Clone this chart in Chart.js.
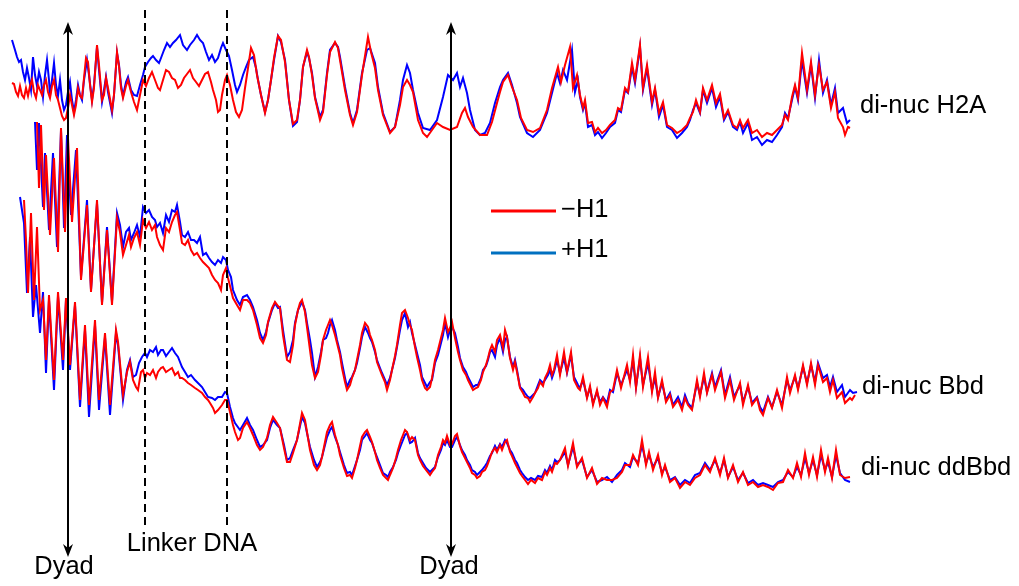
<!DOCTYPE html>
<html lang="en">
<head>
    <meta charset="UTF-8">
    <title>di-nuc footprints</title>
    <script src="https://cdn.jsdelivr.net/npm/chart.js"></script>
    <style>
        body { margin: 0; background: #fff; }
    </style>
</head>
<body>
    <canvas id="grafico" width="1019" height="586"></canvas>

    <script>
        // [position, signal] pairs (signal axis runs downwards)
        const h2aMinus = [[12,83],[14,84],[16,92],[18,96],[20,86],[22,95],[24,98],[26,88],[28,96],[30,86],[32,80],[34,92],[36,98],[38,85],[40,90],[42,95],[44,85],[46,80],[48,92],[50,98],[52,86],[54,80],[56,95],[58,100],[60,108],[62,116],[64,120],[66,118],[68,108],[70,95],[72,105],[74,115],[76,105],[78,88],[80,96],[82,98],[84,78],[86,58],[88,62],[90,85],[92,102],[94,88],[97,45],[99,65],[102,100],[104,95],[106,78],[108,88],[112,110],[114,95],[117,52],[119,66],[121,88],[123,98],[126,86],[128,80],[131,92],[134,102],[137,110],[140,95],[143,80],[146,86],[149,78],[152,72],[155,80],[158,88],[160,90],[163,80],[166,70],[169,72],[172,78],[175,80],[178,88],[181,85],[184,78],[187,74],[190,70],[193,78],[196,82],[199,86],[202,80],[205,74],[208,72],[211,82],[213,90],[216,100],[218,112],[220,110],[222,95],[225,80],[227,75],[230,85],[233,100],[236,112],[239,117],[242,110],[245,88],[248,68],[251,48],[254,55],[257,75],[261,95],[265,113],[268,100],[271,80],[274,58],[278,36],[281,40],[285,62],[289,100],[293,124],[297,120],[300,100],[303,67],[307,50],[309,57],[312,75],[315,98],[320,120],[323,112],[327,75],[330,52],[335,42],[338,48],[340,60],[345,90],[350,115],[353,125],[357,112],[362,75],[368,37],[371,52],[375,68],[378,90],[383,115],[390,133],[395,127],[400,105],[403,87],[407,80],[410,85],[413,92],[418,120],[423,133],[427,137],[432,130],[437,123],[443,127],[450,130],[457,127],[462,113],[465,108],[468,117],[473,127],[480,135],[487,135],[492,122],[497,103],[500,92],[503,82],[508,75],[512,87],[517,100],[521,118],[527,130],[533,132],[540,128],[547,110],[552,88],[558,67],[561,82],[565,65],[570,47],[573,88],[577,75],[580,95],[583,108],[585,100],[588,123],[592,122],[595,132],[598,128],[602,133],[606,130],[610,125],[615,120],[618,108],[621,110],[625,88],[628,92],[632,63],[635,80],[640,45],[643,88],[647,65],[652,102],[655,88],[659,113],[663,102],[667,125],[672,128],[677,133],[682,130],[687,125],[690,118],[693,112],[696,100],[700,112],[703,88],[707,100],[712,85],[716,103],[720,94],[724,118],[728,110],[733,125],[737,128],[740,120],[743,128],[748,120],[752,133],[757,130],[762,137],[767,133],[772,135],[777,130],[782,125],[785,115],[788,120],[792,97],[795,85],[798,98],[802,53],[807,90],[811,62],[815,95],[819,65],[823,90],[827,82],[831,108],[835,92],[838,118],[843,127],[845,135],[848,127],[850,128]];

        const h2aPlus = [[12,40],[15,50],[17,57],[19,62],[21,60],[23,72],[25,80],[27,68],[29,78],[31,90],[33,57],[35,75],[37,86],[39,72],[41,80],[43,97],[45,75],[47,60],[49,80],[50,96],[52,80],[54,63],[56,85],[58,96],[60,80],[62,100],[64,110],[66,105],[68,92],[70,82],[72,100],[74,112],[76,100],[78,85],[80,95],[82,100],[84,80],[87,60],[89,75],[92,100],[94,85],[97,47],[99,70],[102,102],[104,90],[106,77],[108,92],[112,113],[114,95],[117,53],[119,65],[121,85],[123,96],[126,82],[128,77],[131,90],[134,95],[137,96],[140,85],[143,75],[145,67],[148,62],[151,58],[153,56],[156,60],[159,63],[161,58],[164,50],[167,43],[170,47],[173,43],[176,40],[180,35],[183,45],[187,50],[190,45],[194,40],[197,35],[200,40],[203,43],[206,52],[209,60],[212,55],[215,62],[218,58],[221,48],[223,43],[226,50],[229,56],[232,70],[235,85],[237,92],[240,85],[243,75],[246,67],[249,60],[253,57],[256,68],[258,80],[261,95],[265,112],[268,100],[271,80],[274,60],[278,36],[281,42],[285,60],[289,100],[293,126],[297,122],[300,100],[303,67],[307,52],[309,58],[312,73],[315,97],[320,117],[323,110],[327,73],[330,50],[335,43],[338,47],[340,57],[345,87],[350,113],[353,123],[357,110],[362,73],[367,50],[370,48],[375,63],[378,87],[383,113],[390,132],[395,127],[400,100],[403,80],[407,65],[410,73],[413,90],[418,113],[423,128],[430,130],[437,120],[443,97],[448,75],[453,80],[457,73],[460,87],[463,78],[467,93],[470,110],[475,130],[480,135],[485,133],[490,123],[495,103],[500,87],[503,80],[508,73],[512,85],[517,103],[520,117],[527,133],[533,137],[540,130],[547,113],[552,93],[557,73],[560,83],[563,70],[567,80],[572,50],[575,92],[578,80],[580,97],[583,110],[585,103],[588,127],[592,125],[595,135],[598,132],[602,138],[606,133],[610,127],[615,123],[618,110],[621,112],[625,90],[628,93],[632,67],[635,83],[640,47],[643,90],[647,68],[652,105],[655,90],[659,117],[663,105],[667,127],[672,130],[677,138],[682,133],[687,127],[690,120],[693,110],[696,103],[700,113],[703,90],[707,103],[712,88],[716,107],[720,97],[724,120],[728,112],[733,127],[737,130],[740,122],[743,133],[748,123],[752,140],[757,137],[762,145],[767,140],[772,142],[777,135],[782,127],[785,113],[788,118],[792,100],[795,87],[798,100],[802,60],[807,93],[811,65],[815,98],[819,60],[823,93],[827,80],[831,105],[835,88],[838,113],[843,108],[847,123],[850,120]];

        const bbdMinus = [[37,122],[39,188],[41,125],[44,210],[46,155],[50,235],[54,158],[58,252],[61,128],[65,232],[68,138],[72,222],[77,148],[81,280],[87,205],[91,292],[97,200],[102,305],[107,230],[112,305],[117,218],[120,232],[123,255],[126,245],[129,235],[131,247],[134,238],[137,232],[140,245],[143,220],[146,228],[149,222],[152,230],[155,225],[157,237],[160,245],[163,250],[166,228],[169,232],[172,222],[175,215],[177,212],[180,230],[182,243],[185,245],[188,240],[191,250],[194,255],[197,253],[200,258],[203,262],[206,265],[209,268],[212,275],[215,280],[218,283],[221,290],[223,275],[226,268],[228,278],[231,290],[233,298],[237,305],[240,310],[243,300],[247,300],[250,303],[253,310],[257,325],[260,338],[263,343],[266,335],[268,322],[272,308],[275,302],[278,306],[280,308],[283,335],[287,360],[290,362],[293,345],[295,325],[298,310],[300,303],[302,300],[305,312],[307,327],[310,350],[312,365],[315,378],[318,372],[321,355],[323,340],[326,330],[328,325],[330,320],[332,325],[335,335],[337,343],[340,355],[342,368],[345,382],[347,390],[350,385],[352,378],[355,370],[357,360],[360,345],[362,333],[365,323],[368,327],[370,335],[372,340],[375,350],[377,362],[380,370],[382,375],[385,382],[387,390],[390,380],[392,370],[395,356],[397,345],[400,325],[402,313],[405,310],[408,318],[410,325],[412,330],[415,347],[417,357],[420,370],[422,380],[425,388],[427,390],[430,387],[432,378],[435,360],[438,350],[440,342],[443,330],[445,318],[448,332],[450,328],[452,322],[455,338],[458,352],[460,360],[463,370],[466,375],[468,380],[471,386],[473,390],[476,388],[478,387],[481,380],[483,372],[486,365],[488,358],[490,350],[492,345],[495,352],[497,340],[500,335],[503,348],[505,330],[507,337],[510,358],[513,370],[515,362],[517,372],[520,388],[523,393],[525,397],[528,398],[530,402],[533,397],[535,393],[538,388],[540,382],[543,386],[545,378],[548,372],[550,365],[552,375],[554,370],[557,355],[560,375],[564,352],[567,372],[571,352],[574,380],[578,388],[580,390],[583,377],[587,398],[590,386],[593,405],[597,390],[600,405],[603,398],[607,407],[610,392],[613,390],[617,370],[621,388],[627,365],[630,382],[633,355],[636,388],[640,355],[643,387],[648,357],[652,392],[655,372],[658,398],[662,380],[666,402],[670,395],[673,407],[678,400],[682,410],[685,398],[688,405],[692,410],[697,380],[700,397],[704,373],[707,393],[712,375],[715,390],[721,372],[725,398],[730,380],[734,400],[740,383],[743,405],[748,385],[752,405],[757,398],[760,410],[763,415],[768,398],[772,408],[777,390],[782,408],[787,377],[790,393],[795,375],[798,390],[803,365],[807,385],[811,363],[815,385],[818,365],[823,382],[827,378],[830,392],[833,380],[837,398],[842,392],[845,403],[850,398],[852,400],[855,395]];

        const bbdPlus = [[35,122],[37,170],[39,123],[43,207],[45,153],[49,230],[53,153],[57,247],[61,130],[64,228],[67,135],[71,215],[76,150],[81,277],[87,200],[91,290],[97,203],[102,303],[107,227],[112,302],[117,213],[120,225],[123,247],[126,232],[129,228],[131,240],[134,233],[137,225],[140,237],[143,207],[146,213],[149,210],[152,217],[155,220],[157,227],[160,223],[163,233],[166,215],[169,222],[172,210],[175,212],[177,205],[180,222],[182,235],[185,237],[188,232],[191,240],[194,240],[197,243],[200,237],[203,255],[206,253],[209,258],[212,262],[215,265],[218,260],[221,263],[223,257],[226,260],[228,270],[231,277],[233,290],[237,300],[240,305],[243,297],[247,295],[250,300],[253,307],[257,320],[260,333],[263,340],[266,332],[268,323],[272,310],[275,303],[278,308],[280,307],[283,330],[287,357],[290,352],[293,340],[295,323],[298,310],[302,302],[305,310],[307,323],[310,340],[312,353],[315,377],[318,367],[321,352],[323,340],[326,338],[328,333],[330,325],[332,320],[335,330],[337,340],[340,352],[342,363],[345,378],[347,387],[350,380],[352,377],[355,370],[357,363],[360,348],[362,337],[365,327],[368,333],[370,338],[372,342],[375,352],[377,360],[380,368],[382,373],[385,380],[387,385],[390,378],[392,370],[395,358],[397,347],[400,330],[402,320],[405,313],[408,327],[410,322],[412,333],[415,345],[417,353],[420,365],[422,377],[425,383],[427,387],[430,382],[432,380],[435,363],[438,355],[440,347],[443,335],[445,323],[448,337],[450,330],[452,327],[455,333],[458,347],[460,358],[463,367],[466,372],[468,377],[471,383],[473,387],[476,385],[478,385],[481,378],[483,370],[486,366],[488,360],[490,352],[492,350],[495,357],[497,345],[500,338],[503,352],[505,340],[507,337],[510,357],[513,367],[515,360],[517,370],[520,387],[523,390],[525,393],[528,397],[530,398],[533,395],[535,393],[538,385],[540,380],[543,383],[545,380],[548,375],[550,370],[552,378],[554,372],[557,360],[560,373],[564,358],[567,373],[571,355],[574,377],[578,385],[580,388],[583,380],[587,397],[590,388],[593,403],[597,392],[600,402],[603,397],[607,403],[610,390],[613,392],[617,373],[621,385],[627,370],[630,380],[633,360],[636,387],[640,358],[643,385],[648,363],[652,390],[655,378],[658,397],[662,383],[666,400],[670,393],[673,405],[678,397],[682,407],[685,395],[688,403],[692,408],[697,383],[700,395],[704,377],[707,392],[712,373],[715,387],[721,370],[725,395],[730,377],[734,397],[740,385],[743,402],[748,387],[752,403],[757,397],[760,407],[763,412],[768,397],[772,407],[777,392],[782,405],[787,380],[790,390],[795,377],[798,388],[803,367],[807,383],[811,365],[815,382],[818,363],[823,378],[827,375],[830,387],[833,377],[837,392],[842,385],[845,397],[850,390],[853,393],[857,392]];

        const ddbbdMinus = [[24,200],[26,240],[28,293],[31,213],[34,300],[37,227],[40,310],[43,300],[46,360],[49,295],[54,380],[58,292],[63,360],[66,298],[70,365],[75,302],[80,400],[85,325],[89,405],[95,320],[99,400],[105,333],[110,405],[116,330],[118,342],[123,395],[127,372],[130,362],[133,380],[136,387],[138,390],[141,372],[143,370],[145,378],[147,373],[150,375],[153,370],[156,378],[158,372],[161,368],[163,367],[166,372],[169,370],[172,368],[175,375],[178,372],[180,378],[182,378],[185,380],[188,383],[191,385],[195,388],[198,390],[202,393],[205,397],[208,400],[210,403],[213,408],[215,413],[218,410],[222,405],[225,400],[227,400],[230,412],[233,425],[235,432],[238,440],[240,438],[243,428],[247,422],[250,428],[253,435],[257,445],[260,450],[263,447],[267,438],[270,425],[273,417],[277,423],[280,428],[284,448],[287,462],[290,462],[293,453],[297,440],[302,413],[305,420],[307,432],[310,450],[314,465],[317,470],[320,465],[322,457],[325,442],[327,432],[330,425],[332,422],[335,435],[338,445],[340,455],[344,468],[347,476],[350,475],[352,478],[355,468],[357,460],[360,446],[362,437],[365,432],[367,430],[370,437],[372,442],[375,452],[377,460],[380,468],[383,475],[386,478],[388,480],[390,475],[393,468],[396,458],[398,450],[401,440],[403,435],[405,430],[407,432],[410,440],[412,437],[415,440],[418,455],[420,460],[423,466],[426,470],[430,475],[432,472],[435,468],[438,455],[441,447],[443,440],[445,443],[447,436],[450,445],[452,444],[455,436],[457,434],[460,446],[462,452],[465,458],[467,462],[470,468],[472,473],[475,475],[477,478],[480,476],[482,472],[485,470],[487,466],[490,458],[492,452],[495,448],[497,452],[500,445],[502,450],[505,442],[507,440],[510,452],[512,456],[515,463],[517,467],[520,473],[522,476],[525,480],[528,484],[531,480],[535,483],[538,478],[542,480],[545,472],[547,475],[550,468],[552,472],[555,463],[557,464],[560,460],[565,448],[568,466],[573,443],[577,467],[582,458],[587,478],[592,468],[597,484],[602,478],[607,480],[612,480],[617,478],[622,472],[625,465],[630,465],[633,455],[638,465],[642,440],[646,465],[649,452],[653,470],[658,455],[662,475],[665,465],[670,482],[675,478],[680,488],[685,482],[690,485],[695,478],[700,475],[705,465],[710,472],[715,458],[720,475],[724,458],[728,478],[733,465],[738,482],[743,472],[748,485],[753,482],[758,487],[763,485],[768,487],[773,490],[778,483],[783,482],[788,470],[793,478],[797,463],[801,477],[805,453],[809,475],[813,457],[817,477],[821,450],[825,472],[828,458],[832,478],[836,450],[840,475],[845,478],[850,477]];

        const ddbbdPlus = [[20,197],[22,210],[24,223],[27,293],[30,237],[33,317],[36,285],[40,333],[43,292],[46,373],[49,300],[54,390],[58,296],[63,370],[66,300],[70,370],[75,305],[80,407],[85,330],[89,417],[95,325],[99,410],[105,337],[110,415],[116,333],[118,345],[123,400],[127,370],[130,360],[133,377],[136,375],[139,363],[142,357],[145,353],[147,357],[150,350],[153,352],[156,347],[158,355],[161,350],[163,350],[166,356],[169,352],[172,348],[175,353],[178,357],[180,362],[182,367],[185,372],[188,377],[191,375],[195,380],[198,383],[202,387],[205,392],[208,397],[212,398],[215,400],[218,397],[222,397],[225,392],[227,393],[230,407],[233,418],[235,423],[240,430],[243,425],[247,418],[250,425],[253,430],[257,440],[260,447],[263,445],[267,440],[270,428],[273,420],[277,425],[280,428],[284,445],[287,460],[290,458],[293,450],[297,440],[302,417],[305,423],[307,433],[310,447],[314,460],[317,467],[320,462],[322,457],[325,445],[327,437],[330,430],[332,427],[335,437],[338,445],[340,452],[344,465],[347,473],[350,472],[352,475],[355,466],[357,460],[360,450],[362,440],[365,436],[367,433],[370,440],[372,443],[375,452],[377,457],[380,465],[383,473],[386,475],[388,477],[390,472],[393,467],[396,460],[398,453],[401,445],[403,440],[405,435],[407,433],[410,443],[412,442],[415,438],[418,453],[420,458],[423,463],[426,468],[430,472],[432,470],[435,467],[438,457],[441,450],[443,443],[445,445],[447,440],[450,447],[452,447],[455,440],[457,437],[460,445],[462,450],[465,455],[467,460],[470,465],[472,470],[475,472],[477,475],[480,472],[482,470],[485,466],[487,463],[490,456],[492,453],[495,446],[497,450],[500,444],[502,447],[505,440],[507,443],[510,450],[512,453],[515,460],[517,463],[520,470],[522,473],[525,477],[528,480],[531,478],[535,480],[538,476],[542,477],[545,470],[547,473],[550,466],[552,470],[555,460],[557,462],[560,460],[565,452],[568,465],[573,447],[577,465],[582,460],[587,477],[592,470],[597,482],[602,480],[607,477],[612,482],[617,475],[622,470],[625,463],[630,467],[633,457],[638,463],[642,445],[646,463],[649,455],[653,467],[658,458],[662,473],[665,467],[670,480],[675,477],[680,485],[685,480],[690,483],[695,475],[700,473],[705,463],[710,470],[715,460],[720,473],[724,460],[728,477],[733,467],[738,480],[743,473],[748,483],[753,480],[758,485],[763,483],[768,485],[773,487],[778,482],[783,480],[788,472],[793,477],[797,467],[801,475],[805,458],[809,473],[813,460],[817,475],[821,455],[825,470],[828,462],[832,477],[836,455],[840,473],[845,480],[850,482]];

        // dyads and linker boundaries, in position units
        const dyadPos = [68, 451];
        const linkerPos = [145, 227];
        const seriesNames = ["di-nuc H2A", "di-nuc Bbd", "di-nuc ddBbd"];
        const legendNames = ["\u2212H1", "+H1"];

        const pts = arr => arr.map(p => ({ x: p[0], y: p[1] }));
        const linha = (dados, cor) => ({
            data: pts(dados),
            borderColor: cor,
            borderWidth: 2,
            pointRadius: 0,
            tension: 0,
            fill: false
        });

        const fonte = '25.5px "Liberation Sans", Arial, sans-serif';

        function seta(ctx, x, y, dir) {
            ctx.beginPath();
            ctx.moveTo(x, y);
            ctx.lineTo(x - 5, y + dir * 13);
            ctx.lineTo(x, y + dir * 9);
            ctx.lineTo(x + 5, y + dir * 13);
            ctx.closePath();
            ctx.fill();
        }

        const anotacoes = {
            id: 'anotacoes',
            afterDatasetsDraw(chart) {
                const ctx = chart.ctx;
                const sx = chart.scales.x, sy = chart.scales.y;
                ctx.save();
                ctx.strokeStyle = '#000';
                ctx.fillStyle = '#000';

                // linker DNA boundaries
                ctx.lineWidth = 2;
                ctx.setLineDash([8, 5]);
                linkerPos.forEach(p => {
                    const x = Math.round(sx.getPixelForValue(p));
                    ctx.beginPath();
                    ctx.moveTo(x, sy.getPixelForValue(10));
                    ctx.lineTo(x, sy.getPixelForValue(525));
                    ctx.stroke();
                });
                ctx.setLineDash([]);

                // dyad double arrows
                dyadPos.forEach(p => {
                    const x = Math.round(sx.getPixelForValue(p));
                    const top = sy.getPixelForValue(22), bot = sy.getPixelForValue(557);
                    ctx.beginPath();
                    ctx.moveTo(x, top + 8);
                    ctx.lineTo(x, bot - 8);
                    ctx.stroke();
                    seta(ctx, x, top, 1);
                    seta(ctx, x, bot, -1);
                });

                ctx.font = fonte;
                ctx.textBaseline = 'middle';
                ctx.textAlign = 'center';
                ctx.fillText('Dyad', sx.getPixelForValue(dyadPos[0]) - 4, 567);
                ctx.fillText('Dyad', sx.getPixelForValue(dyadPos[1]) - 2, 567);
                ctx.fillText('Linker DNA', 192, 544);

                ctx.textAlign = 'left';
                ctx.fillText(seriesNames[0], 860, 106);
                ctx.fillText(seriesNames[1], 862, 387);
                ctx.fillText(seriesNames[2], 861, 468);

                // legend
                ctx.lineWidth = 3;
                ctx.strokeStyle = '#ff0000';
                ctx.beginPath(); ctx.moveTo(491, 211); ctx.lineTo(556, 211); ctx.stroke();
                ctx.strokeStyle = '#0070c0';
                ctx.beginPath(); ctx.moveTo(491, 253); ctx.lineTo(556, 253); ctx.stroke();
                ctx.fillText(legendNames[0], 561, 210);
                ctx.fillText(legendNames[1], 561, 250);
                ctx.restore();
            }
        };

        const grafico = new Chart(document.getElementById('grafico'), {
            type: 'line',
            data: {
                datasets: [
                    linha(h2aMinus, '#ff0000'),
                    linha(bbdMinus, '#ff0000'),
                    linha(ddbbdMinus, '#ff0000'),
                    linha(h2aPlus, '#0000ff'),
                    linha(bbdPlus, '#0000ff'),
                    linha(ddbbdPlus, '#0000ff')
                ]
            },
            options: {
                responsive: false,
                animation: false,
                devicePixelRatio: 1,
                layout: { padding: 0 },
                plugins: { legend: { display: false }, tooltip: { enabled: false } },
                scales: {
                    x: { type: 'linear', min: 0, max: 1019, display: false },
                    y: { type: 'linear', min: 0, max: 586, reverse: true, display: false }
                }
            },
            plugins: [anotacoes]
        });
    </script>
</body>
</html>
